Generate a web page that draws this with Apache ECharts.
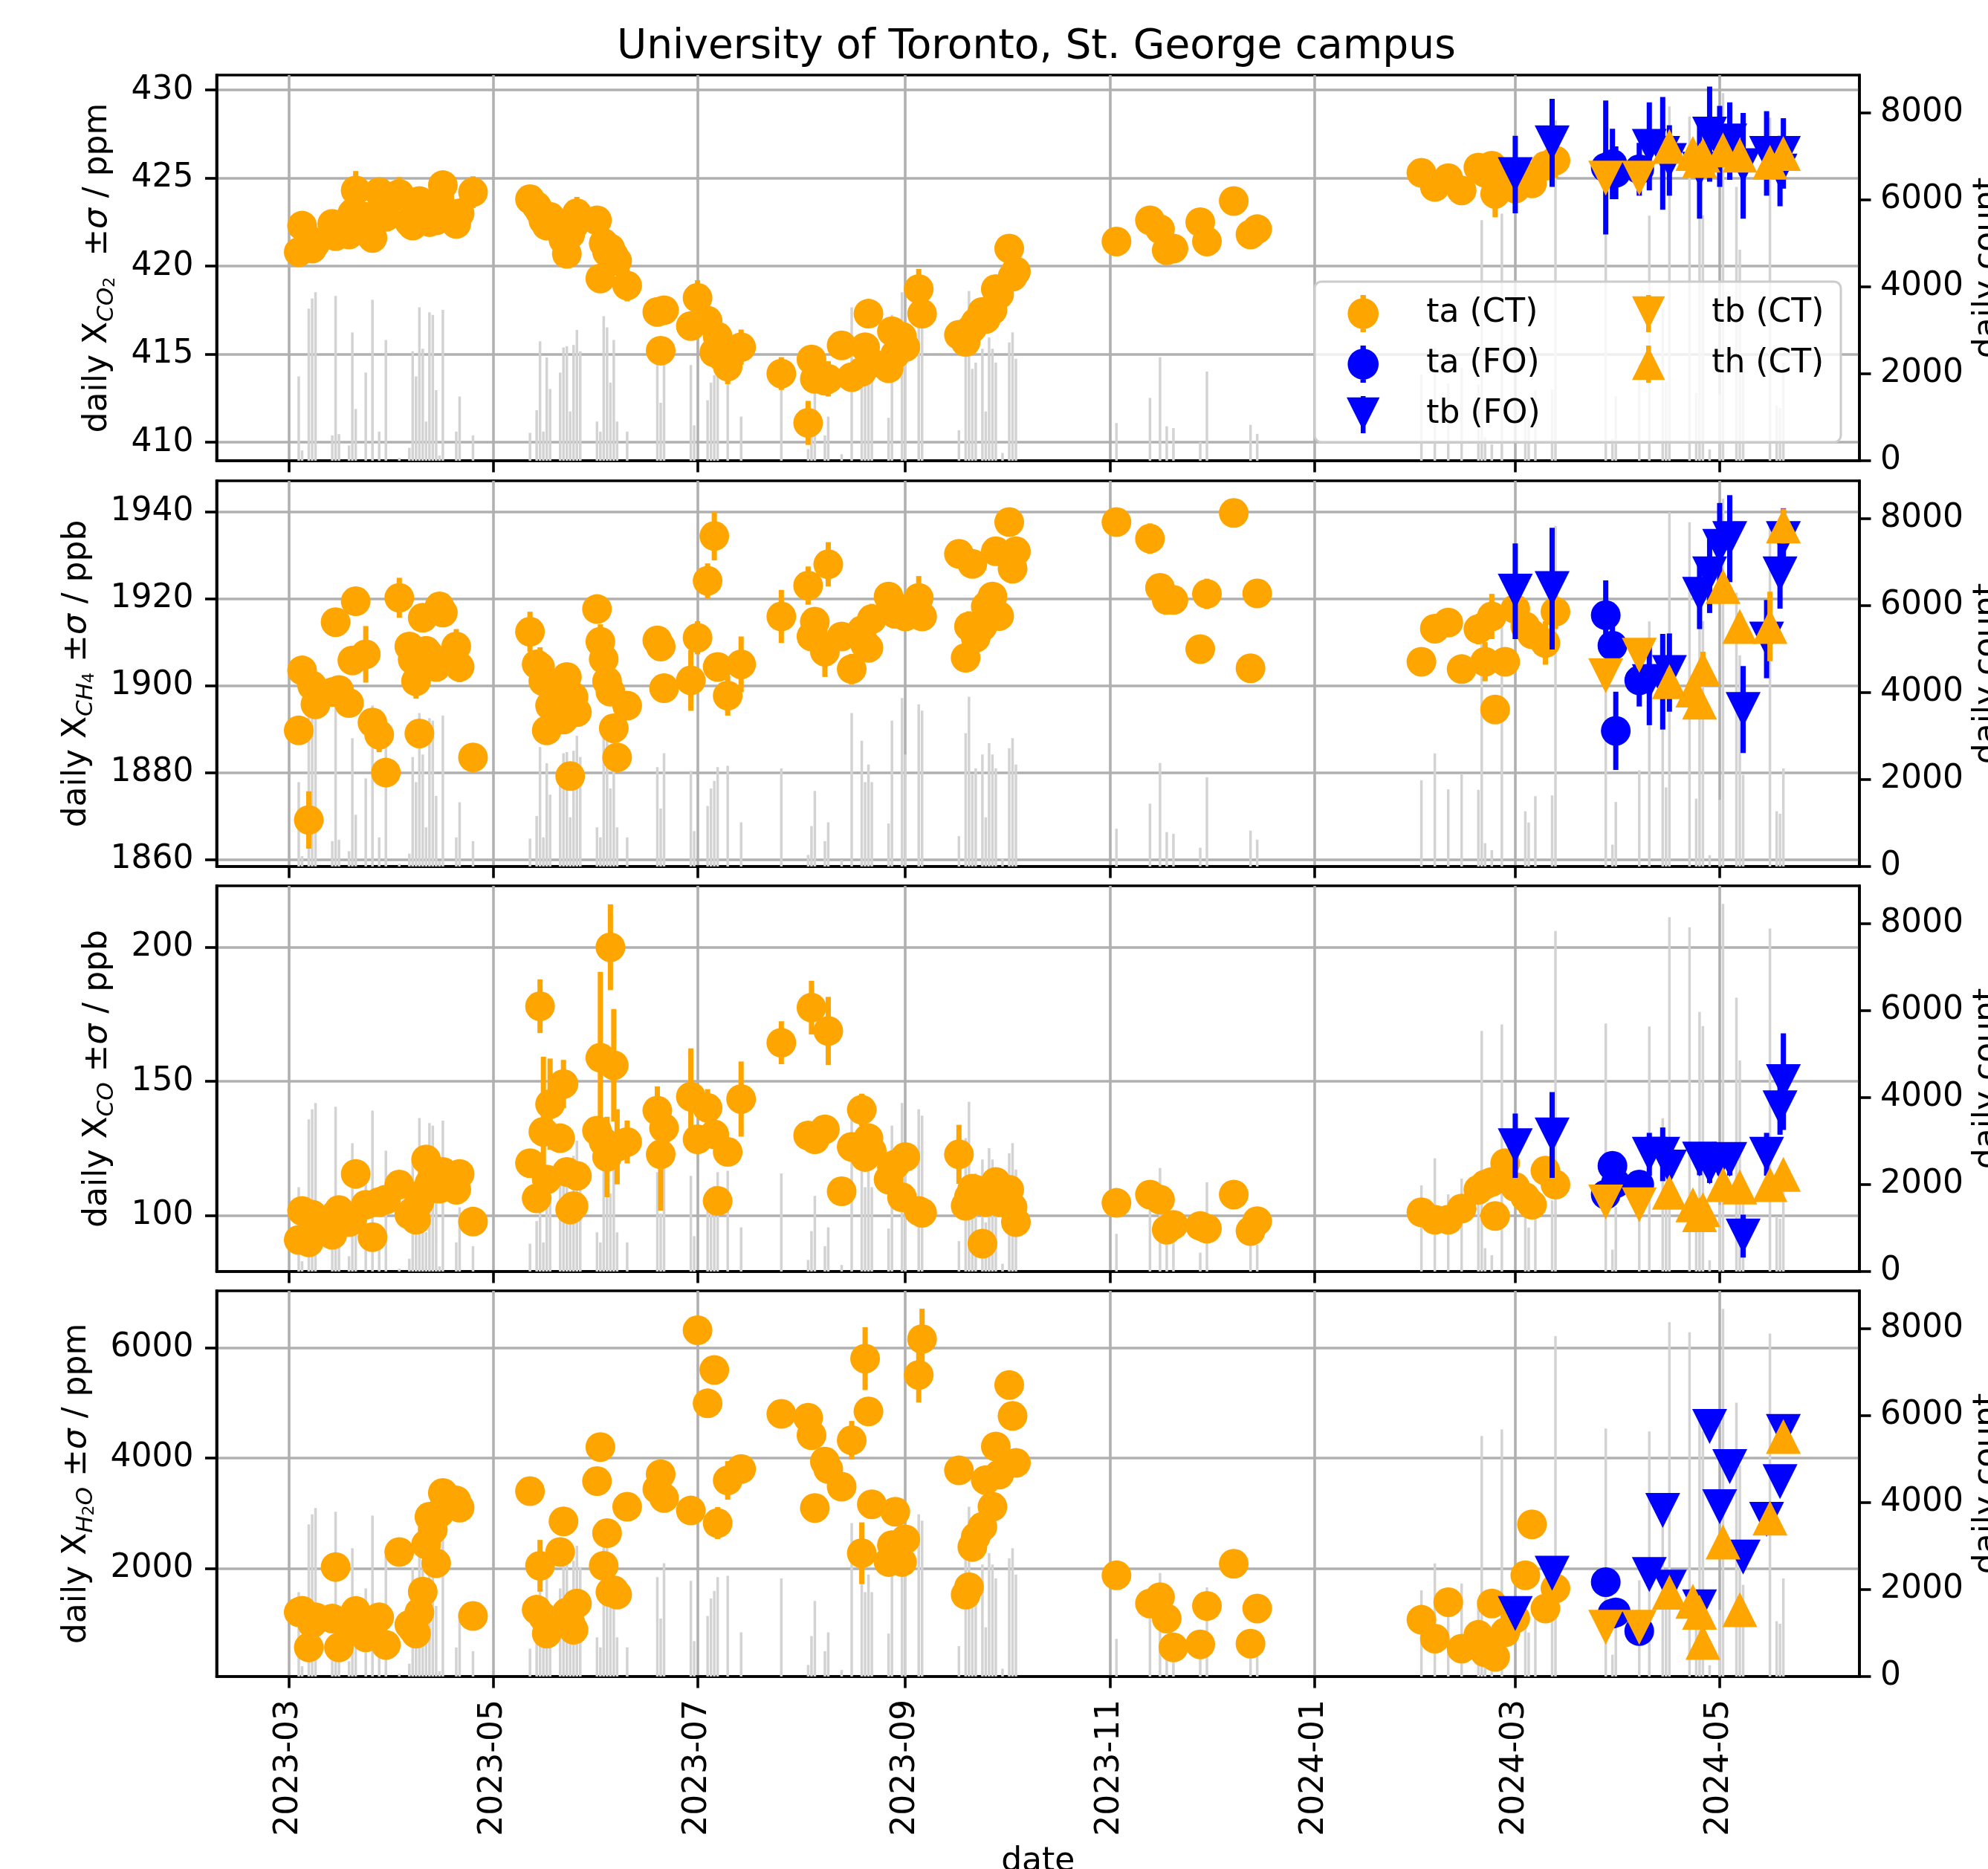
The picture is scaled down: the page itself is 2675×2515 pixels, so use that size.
<!DOCTYPE html>
<html>
<head>
<meta charset="utf-8">
<title>University of Toronto, St. George campus</title>
<script src="https://cdn.jsdelivr.net/npm/echarts@6.0.0/dist/echarts.min.js"></script>
<style>
  html, body { margin: 0; padding: 0; background: #ffffff; }
  #main { width: 2675px; height: 2515px; }
</style>
</head>
<body>
<div id="main"></div>
<script>
// x values are days since 2023-03-01
var monthTicks = [0, 61, 122, 184, 245, 306, 366, 427];
var monthLabels = ['2023-03', '2023-05', '2023-07', '2023-09', '2023-11', '2024-01', '2024-03', '2024-05'];

var co2Ticks = [410, 415, 420, 425, 430];
var ch4Ticks = [1860, 1880, 1900, 1920, 1940];
var coTicks = [100, 150, 200];
var h2oTicks = [2000, 4000, 6000];
var countTicks = [0, 2000, 4000, 6000, 8000];

// ta (CT) measurement days
var taDays = [
  3, 4, 6, 7, 8, 13, 14, 15, 18, 19, 20, 23, 25, 27, 29, 33,
  36, 37, 38, 39, 40, 41, 42, 43, 44, 45, 46, 50, 51, 55,
  72, 74, 75, 76, 77, 78, 81, 82, 83, 84, 85, 86,
  92, 93, 94, 95, 96, 97, 98, 101, 110, 111, 112,
  120, 122, 125, 127, 128, 131, 135, 147,
  155, 156, 157, 160, 161, 165, 168, 171, 172, 173, 174, 179, 180, 181, 183,
  184, 188, 189, 200, 202, 203, 204, 205, 207, 208, 210, 211, 212,
  215, 216, 217,
  247, 257, 260, 262, 264, 272, 274, 282, 287, 289,
  338, 342, 346, 350, 355, 357, 359, 360, 363, 366, 369, 371, 375, 378
];
var co2TaCT = [
  420.8, 422.3, 421.5, 421.0, 421.3, 422.4, 421.7, 422.0, 421.8, 423.0, 424.3, 422.8, 421.6, 424.2, 422.8, 424.1,
  422.5, 422.3, 423.0, 423.7, 423.2, 422.7, 422.5, 423.5, 422.6, 423.8, 424.6, 422.4, 423.0, 424.2,
  423.8, 423.4, 423.1, 422.6, 422.3, 422.8, 422.0, 421.5, 420.7, 421.8, 422.3, 423.0,
  422.6, 419.3, 421.3, 420.8, 421.0, 420.6, 420.3, 418.9, 417.4, 415.2, 417.5,
  416.6, 418.2, 416.9, 415.1, 416.0, 414.3, 415.4, 413.9,
  411.1, 414.7, 413.6, 413.5, 413.6, 415.5, 413.7, 414.0, 415.4, 417.3, 414.5, 414.2, 416.3, 415.0, 416.0,
  415.4, 418.7, 417.3, 416.1, 415.7, 416.3, 416.5, 416.8, 417.4, 417.0, 417.5, 418.7, 418.4,
  421.0, 419.4, 419.7,
  421.4, 422.6, 422.1, 420.9, 421.0, 422.5, 421.4, 423.7, 421.8, 422.1,
  425.3, 424.5, 425.0, 424.3, 425.6, 425.3, 425.7, 424.1, 424.8, 424.4, 425.1, 424.7, 425.7, 426.0
];
var co2TaCTErr = [
  0.5, 0.5, 0.5, 0.5, 0.5, 0.5, 0.5, 0.5, 0.5, 0.6, 1.1, 0.6, 0.5, 0.7, 0.5, 0.95,
  0.5, 0.5, 0.6, 0.5, 0.5, 0.5, 0.5, 0.5, 0.5, 0.6, 0.5, 0.6, 0.7, 0.9,
  0.7, 0.9, 0.6, 0.6, 0.5, 0.5, 0.6, 0.5, 0.5, 0.5, 0.5, 0.93,
  0.6, 0.5, 0.6, 0.5, 0.5, 0.5, 0.6, 0.9, 0.5, 0.5, 0.5,
  0.5, 1.0, 0.6, 0.9, 0.6, 1.0, 1.0, 0.93,
  1.25, 0.5, 0.5, 0.5, 1.0, 0.5, 0.6, 0.5, 0.7, 0.5, 0.6, 0.5, 0.6, 0.5, 0.5,
  0.5, 1.14, 0.6, 0.5, 0.5, 0.5, 0.5, 0.5, 0.5, 0.5, 0.5, 0.5, 0.5,
  0.5, 0.5, 0.5,
  0.4, 0.4, 0.4, 0.4, 0.4, 0.4, 0.4, 0.4, 0.4, 0.4,
  0.5, 0.5, 0.5, 0.5, 0.7, 1.07, 0.8, 1.33, 0.6, 0.7, 0.9, 0.6, 0.5, 1.0
];
var ch4TaCT = [
  1889.7, 1903.5, 1869.1, 1900.0, 1895.7, 1898.5, 1914.6, 1899.0, 1896.0, 1905.8, 1919.4, 1907.2, 1891.5, 1888.7, 1880.0, 1920.2,
  1909.0, 1906.0, 1901.0, 1889.0, 1915.6, 1908.0, 1907.0, 1906.0, 1904.3, 1918.2, 1916.8, 1909.0, 1904.3, 1883.5,
  1912.4, 1904.9, 1904.3, 1901.0, 1889.7, 1895.4, 1896.5, 1892.2, 1902.0, 1879.2, 1897.4, 1893.9,
  1917.6, 1910.1, 1906.1, 1901.0, 1898.6, 1890.2, 1883.5, 1895.4, 1910.4, 1909.0, 1899.4,
  1901.2, 1911.0, 1924.1, 1934.4, 1904.3, 1897.7, 1904.9, 1915.9,
  1923.0, 1911.3, 1914.7, 1907.8, 1927.9, 1911.3, 1903.8, 1912.7, 1909.5, 1908.7, 1915.3, 1920.5, 1918.8, 1916.5, 1917.5,
  1915.9, 1920.2, 1915.9, 1930.3, 1906.4, 1913.6, 1928.0, 1911.0, 1913.6, 1918.2, 1920.5, 1930.9, 1916.0,
  1937.6, 1926.9, 1930.9,
  1937.6, 1933.8, 1922.5, 1919.7, 1919.7, 1908.4, 1921.1, 1939.7, 1904.0, 1921.2,
  1905.5, 1913.1, 1914.5, 1903.8, 1913.0, 1905.5, 1915.9, 1894.5, 1905.5, 1917.6, 1913.6, 1911.8, 1909.8, 1917.0
];
var ch4TaCTErr = [
  2.5, 2.5, 6.6, 2.5, 2.5, 2.5, 2.5, 2.5, 2.5, 2.5, 2.5, 6.5, 2.5, 4.0, 2.5, 4.6,
  2.5, 2.5, 4.0, 2.5, 2.5, 2.5, 2.5, 2.5, 2.5, 2.5, 2.5, 4.0, 3.5, 2.5,
  4.6, 2.5, 4.5, 2.5, 2.5, 2.5, 2.5, 2.5, 2.5, 2.5, 2.5, 2.5,
  2.5, 4.0, 2.5, 2.5, 2.5, 2.5, 2.5, 2.5, 2.5, 2.5, 2.5,
  7.0, 3.8, 4.0, 5.6, 2.5, 4.6, 6.4, 6.1,
  4.4, 2.5, 2.5, 5.8, 5.1, 2.5, 3.5, 4.0, 2.5, 2.5, 3.5, 2.5, 3.5, 2.5, 3.0,
  3.0, 5.0, 3.0, 2.5, 2.5, 3.5, 2.5, 2.5, 2.5, 2.5, 2.5, 3.0, 2.5,
  3.0, 2.5, 3.0,
  2.5, 3.5, 2.5, 2.5, 2.5, 2.5, 3.5, 2.5, 2.5, 2.5,
  2.5, 3.0, 2.5, 2.5, 3.5, 4.5, 5.2, 2.5, 3.0, 3.5, 3.0, 3.0, 5.0, 4.0
];
var coTaCT = [
  90.9, 101.7, 90.0, 100.3, 98.9, 92.8, 100.3, 102.0, 97.5, 99.0, 115.5, 104.0, 91.9, 105.0, 105.9, 111.5,
  100.3, 101.5, 98.4, 105.0, 108.0, 120.9, 112.0, 115.3, 113.4, 110.0, 116.2, 109.6, 115.5, 97.7,
  119.5, 106.4, 178.0, 131.2, 113.4, 141.5, 128.8, 149.0, 116.2, 102.2, 103.5, 114.8,
  131.6, 158.8, 127.4, 121.8, 200.0, 156.0, 125.6, 127.4, 139.1, 122.8, 132.6,
  144.3, 128.4, 140.1, 130.2, 105.4, 123.7, 143.4, 164.4,
  129.8, 177.5, 128.4, 132.1, 168.8, 109.0, 125.6, 139.4, 121.8, 128.8, 124.0, 113.4, 118.0, 119.0, 106.8,
  121.8, 101.7, 101.0, 122.8, 103.6, 107.0, 110.0, 109.6, 89.5, 105.0, 108.7, 112.5, 105.0,
  109.6, 103.0, 97.5,
  104.7, 107.8, 105.9, 94.7, 96.5, 96.1, 95.1, 107.8, 94.2, 97.9,
  101.2, 98.4, 98.4, 102.6, 109.6, 111.5, 112.5, 99.8, 119.5, 110.6, 106.8, 104.0, 116.7, 111.5
];
var coTaCTErr = [
  3, 3, 3, 3, 3, 3, 3, 3, 3, 3, 3, 3, 3, 3, 3, 3,
  3, 3, 3, 3, 3, 3, 4, 4, 3, 3, 3, 3, 4, 3,
  4, 3, 10, 28, 3, 17, 4, 9, 3, 3, 3, 4,
  3, 32, 4, 15, 16, 21, 14, 8, 9, 21, 4,
  18, 4, 7, 5, 3, 4, 14, 8,
  4, 10, 4, 4, 12.7, 3, 4, 6, 4, 4, 4, 3, 4, 4, 3,
  3, 3, 3, 11, 3, 3, 4, 3, 3, 3, 3, 4, 3,
  3, 3, 3,
  2, 2, 2, 2, 2, 2, 2, 2, 2, 2,
  2, 2, 2, 2, 3, 3, 3, 2, 3, 3, 3, 3, 4, 3
];
var h2oTaCT = [
  1203, 1230, 565, 1000, 1111, 1089, 2023, 565, 884, 1100, 1225, 747, 900, 1111, 610, 2296,
  975, 900, 815, 1200, 1576, 2433, 2934, 2700, 2091, 3000, 3367, 3230, 3100, 1134,
  3399, 1248, 2045, 1111, 815, 1000, 2296, 2852, 1200, 1020, 884, 1362,
  3581, 4200, 2045, 2638, 1567, 1600, 1521, 3116, 3435, 3708, 3276,
  3048, 6319, 4993, 5599, 2820, 3594, 3800, 4802,
  4733, 4415, 3094, 3936, 3800, 3481, 4323, 2273, 5804, 4847, 3162, 2114, 2420, 3025, 2114,
  2524, 5508, 6159, 3777, 1521, 1658, 2387, 2569, 2752, 3600, 3116, 4210, 3700,
  5326, 4765, 3913,
  1872, 1362, 1476, 1089, 565, 620, 1317, 2082, 633, 1271,
  1066, 724, 1385, 542, 793, 474, 1362, 392, 838, 1089, 1872, 2797, 1271, 1635
];
var h2oTaCTErr = [
  40, 40, 40, 40, 40, 40, 40, 40, 40, 40, 40, 40, 40, 40, 40, 40,
  40, 40, 40, 40, 40, 40, 40, 40, 40, 40, 40, 40, 40, 40,
  40, 40, 470, 40, 40, 40, 40, 40, 40, 40, 40, 40,
  40, 40, 40, 40, 40, 40, 40, 40, 40, 40, 40,
  40, 40, 40, 40, 290, 350, 40, 40,
  40, 40, 40, 40, 40, 40, 350, 560, 570, 40, 40, 40, 40, 40, 40,
  40, 500, 550, 40, 40, 40, 40, 40, 40, 40, 40, 40, 40,
  40, 40, 40,
  40, 40, 40, 40, 40, 40, 40, 40, 40, 40,
  40, 40, 40, 40, 40, 40, 40, 40, 40, 40, 40, 40, 40, 40
];

// ta (FO)
var taFODays = [393, 395, 396, 403];
var co2TaFO = [425.6, 425.8, 425.3, 425.5];
var co2TaFOErr = [3.8, 2.0, 1.5, 1.5];
var ch4TaFO = [1916.2, 1909.2, 1889.6, 1901.2];
var ch4TaFOErr = [8, 6, 9, 6];
var coTaFO = [107.8, 118.5, 112.0, 111.5];
var coTaFOErr = [3, 5, 3, 4];
var h2oTaFO = [1749, 1180, 1200, 861];
var h2oTaFOErr = [60, 60, 60, 60];

// tb (FO)
var tbFODays = [366, 377, 406, 410, 412, 421, 424, 427, 430, 434, 441, 445, 446];
var co2TbFO = [425.2, 427.0, 426.8, 426.4, 426.0, 425.5, 427.5, 426.8, 427.1, 425.7, 426.4, 425.4, 426.4];
var co2TbFOErr = [2.2, 2.5, 2.5, 3.2, 2.0, 2.8, 2.7, 2.3, 2.2, 3.0, 2.4, 2.0, 2.0];
var ch4TbFO = [1921.7, 1922.3, 1900.9, 1900.9, 1903.0, 1921.0, 1925.7, 1932.0, 1933.8, 1894.5, 1910.7, 1925.7, 1933.8];
var ch4TbFOErr = [11, 14, 10, 11, 9, 8, 9, 10, 10, 10, 9, 8, 7];
var coTbFO = [126.0, 130.0, 122.8, 122.8, 118.0, 121.0, 118.1, 120.0, 120.9, 92.3, 122.8, 140.1, 149.9];
var coTbFOErr = [12, 16, 8, 10, 6, 6, 6, 5, 6, 8, 8, 10, 18];
var h2oTbFO = [1180, 1909, 1886, 3048, 1658, 1300, 4574, 3116, 3845, 2205, 2888, 3572, 4483];
var h2oTbFOErr = [100, 150, 100, 150, 100, 100, 100, 100, 120, 150, 100, 150, 100];

// tb (CT)
var tbCTDays = [393, 403];
var co2TbCT = [425.0, 425.0];
var co2TbCTErr = [0.5, 0.5];
var ch4TbCT = [1902.3, 1907.0];
var ch4TbCTErr = [3, 3];
var coTbCT = [105.0, 104.0];
var coTbCTErr = [2, 2];
var h2oTbCT = [929, 929];
var h2oTbCTErr = [40, 40];

// th (CT)
var thCTDays = [412, 419, 421, 422, 428, 433, 442, 446];
var co2ThCT = [426.8, 426.4, 426.0, 426.3, 426.6, 426.3, 425.9, 426.4];
var co2ThCTErr = [0.6, 0.6, 0.6, 0.6, 0.6, 0.6, 0.6, 0.6];
var ch4ThCT = [1900.9, 1899.0, 1896.2, 1903.8, 1922.8, 1913.6, 1913.6, 1936.7];
var ch4ThCTErr = [3, 3, 3, 4, 3, 3, 8, 4];
var coThCT = [108.7, 104.0, 100.3, 102.2, 111.5, 110.6, 111.5, 115.3];
var coThCTErr = [2, 2, 2, 2, 2, 2, 2, 2];
var h2oThCT = [1567, 1400, 1203, 656, 2478, 1248, 2911, 4392];
var h2oThCTErr = [60, 60, 60, 60, 60, 60, 60, 60];

// daily count (right axis, same in every panel)
var barDays = [
  3, 4, 6, 7, 8, 13, 14, 15, 18, 19, 20, 23, 25, 27, 29, 33,
  36, 37, 38, 39, 40, 41, 42, 43, 44, 45, 46, 50, 51, 55,
  72, 74, 75, 76, 77, 78, 81, 82, 83, 84, 85, 86, 87,
  92, 93, 94, 95, 96, 97, 98, 101, 110, 111, 112,
  120, 121, 125, 126, 127, 128, 131, 135, 147,
  155, 156, 157, 160, 161, 165, 168, 171, 172, 173, 174, 179, 180, 183, 184, 188, 189,
  200, 202, 203, 204, 205, 207, 208, 209, 210, 211, 213, 215, 216, 217,
  247, 257, 260, 262, 264, 272, 274, 287, 289,
  338, 342, 346, 350, 355, 356, 357, 359, 362, 369, 370, 372, 377, 378,
  393, 395, 396, 403, 406, 410, 411, 412, 418, 420, 421, 422, 424, 427, 428, 432, 433, 434, 442, 444, 445, 446
];
var barCounts = [
  1940, 237, 3500, 3731, 3875, 583, 3788, 612, 352, 2951, 1190, 2027, 3702, 670, 2778, 64,
  295, 2518, 1940, 3529, 2576, 901, 3413, 3355, 1623, 121, 3471, 670, 1478, 583,
  641, 1161, 2749, 670, 2374, 1652, 2027, 2605, 2633, 1132, 2662, 3009, 2518,
  901, 670, 3326, 3067, 1796, 2778, 901, 670, 2287, 1334, 2605,
  2200, 814, 1392, 1796, 1969, 2287, 2316, 1016, 2258,
  266, 930, 1738, 583, 1016, 150, 3529, 2893, 1940, 2345, 1940, 988, 3355, 3875, 2576, 3731, 3586,
  699, 3067, 3904, 2114, 2258, 2576, 1132, 2836, 2576, 2258, 179, 2720, 2951, 2345,
  867, 1445, 2381, 792, 751, 433, 2052, 826, 618,
  1982, 2601, 1774, 2138, 1763, 5531, 537, 376, 5681, 1271, 1011, 1618, 1635, 7831,
  5704, 503, 1485, 2213, 5635, 3525, 1820, 8148, 7917, 1560, 5970, 5646, 260, 1531, 8455, 6299, 4854, 2109, 7888, 1271, 1214, 2254
];

var FONT = 'DejaVu Sans';
var ORANGE = '#ffa500', BLUE = '#0000ff';
var ICON_CIRCLE = 'path://M20,4A20,20 0 1 1 20,44A20,20 0 1 1 20,4Z M16.5,0H23.5V48H16.5Z';
var ICON_DOWN = 'path://M0,2H48L24,50Z M20.5,0H27.5V54H20.5Z';
var ICON_UP = 'path://M24,2L48,50H0Z M20.5,0H27.5V54H20.5Z';

var styles = [
  { name: 'ta (CT)', color: ORANGE, symbol: 'circle', size: 40, rotate: 0 },
  { name: 'ta (FO)', color: BLUE, symbol: 'circle', size: 40, rotate: 0 },
  { name: 'tb (FO)', color: BLUE, symbol: 'triangle', size: 47, rotate: 180 },
  { name: 'tb (CT)', color: ORANGE, symbol: 'triangle', size: 47, rotate: 180 },
  { name: 'th (CT)', color: ORANGE, symbol: 'triangle', size: 47, rotate: 0 }
];
var seriesDays = [taDays, taFODays, tbFODays, tbCTDays, thCTDays];

var nameRich = {
  n: { fontFamily: FONT, fontSize: 44, lineHeight: 56, color: '#000' },
  i: { fontFamily: FONT, fontSize: 44, lineHeight: 56, fontStyle: 'italic', color: '#000' },
  s: { fontFamily: FONT, fontSize: 31, lineHeight: 40, fontStyle: 'italic', verticalAlign: 'bottom', color: '#000' },
  t: { fontFamily: FONT, fontSize: 22, lineHeight: 30, verticalAlign: 'bottom', color: '#000' }
};

var panels = [
  { min: 408.95, max: 430.85, ticks: co2Ticks, gap: 132,
    name: '{n|daily X}{s|CO}{t|2}{n|  ±}{i|σ}{n| / ppm}',
    vals: [co2TaCT, co2TaFO, co2TbFO, co2TbCT, co2ThCT],
    errs: [co2TaCTErr, co2TaFOErr, co2TbFOErr, co2TbCTErr, co2ThCTErr] },
  { min: 1858.4, max: 1947.1, ticks: ch4Ticks, gap: 160,
    name: '{n|daily X}{s|CH}{t|4}{n| ±}{i|σ}{n| / ppb}',
    vals: [ch4TaCT, ch4TaFO, ch4TbFO, ch4TbCT, ch4ThCT],
    errs: [ch4TaCTErr, ch4TaFOErr, ch4TbFOErr, ch4TbCTErr, ch4ThCTErr] },
  { min: 79.1, max: 222.9, ticks: coTicks, gap: 132,
    name: '{n|daily X}{s|CO}{n| ±}{i|σ}{n| / ppb}',
    vals: [coTaCT, coTaFO, coTbFO, coTbCT, coThCT],
    errs: [coTaCTErr, coTaFOErr, coTbFOErr, coTbCTErr, coThCTErr] },
  { min: 36, max: 7034, ticks: h2oTicks, gap: 160,
    name: '{n|daily X}{s|H}{t|2}{s|O}{n| ±}{i|σ}{n| / ppm}',
    vals: [h2oTaCT, h2oTaFO, h2oTbFO, h2oTbCT, h2oThCT],
    errs: [h2oTaCTErr, h2oTaFOErr, h2oTbFOErr, h2oTbCTErr, h2oThCTErr] }
];

var gridTops = [101, 647, 1192, 1737];
var xMin = -21.5, xMax = 468.7;
var axisLineStyle = { color: '#000', width: 3.6 };
var tickFont = { fontFamily: FONT, fontSize: 44, color: '#000' };

function fmtMonth(v) {
  var k = monthTicks.indexOf(Math.round(v));
  return k >= 0 ? monthLabels[k] : '';
}
function fmtPlain(v) { return String(v); }

function errorSeries(st, gi, days, vals, errs, z) {
  return {
    type: 'custom', name: st.name, xAxisIndex: gi, yAxisIndex: 2 * gi, z: z,
    silent: true, itemStyle: { color: st.color },
    encode: { x: 0, y: 1 },
    data: days.map(function (d, k) { return [d, vals[k], errs[k]]; }),
    renderItem: function (params, api) {
      var a = api.coord([api.value(0), api.value(1) - api.value(2)]);
      var b = api.coord([api.value(0), api.value(1) + api.value(2)]);
      return { type: 'line', shape: { x1: a[0], y1: a[1], x2: b[0], y2: b[1] },
               style: { stroke: st.color, lineWidth: 7 } };
    }
  };
}

var grids = [], xAxes = [], yAxes = [], series = [];
panels.forEach(function (p, i) {
  grids.push({ left: 291.5, right: 173, top: gridTops[i], height: 519,
               containLabel: false, outerBoundsMode: 'none',
               show: true, borderColor: '#000', borderWidth: 3.6, backgroundColor: 'transparent' });
  xAxes.push({
    type: 'value', gridIndex: i, min: xMin, max: xMax,
    axisLine: { onZero: false, lineStyle: axisLineStyle },
    axisTick: { length: 15.5, customValues: monthTicks, lineStyle: axisLineStyle },
    axisLabel: Object.assign({ show: i === 3, customValues: monthTicks, rotate: 90, margin: 31,
                               formatter: fmtMonth }, tickFont),
    splitLine: { show: true, lineStyle: { color: '#b0b0b0', width: 3.6 } },
    name: i === 3 ? 'date' : '', nameLocation: 'middle', nameGap: 228,
    nameTextStyle: tickFont
  });
  yAxes.push({
    type: 'value', gridIndex: i, position: 'left', min: p.min, max: p.max,
    axisLine: { show: true, onZero: false, lineStyle: axisLineStyle },
    axisTick: { length: 15.5, customValues: p.ticks, lineStyle: axisLineStyle },
    axisLabel: Object.assign({ customValues: p.ticks, margin: 31, formatter: fmtPlain }, tickFont),
    splitLine: { show: true, lineStyle: { color: '#b0b0b0', width: 3.6 } },
    name: p.name, nameLocation: 'middle', nameRotate: 90, nameGap: p.gap,
    nameTextStyle: { fontFamily: FONT, fontSize: 44, color: '#000', rich: nameRich }
  });
  yAxes.push({
    type: 'value', gridIndex: i, position: 'right', min: 0, max: 8870,
    axisLine: { show: true, onZero: false, lineStyle: axisLineStyle },
    axisTick: { length: 15.5, customValues: countTicks, lineStyle: axisLineStyle },
    axisLabel: Object.assign({ customValues: countTicks, margin: 28, formatter: fmtPlain }, tickFont),
    splitLine: { show: false },
    name: 'daily count', nameLocation: 'middle', nameRotate: 90, nameGap: 150,
    nameTextStyle: tickFont
  });

  series.push({
    type: 'bar', xAxisIndex: i, yAxisIndex: 2 * i + 1, z: 1, silent: true,
    barWidth: 3.5, itemStyle: { color: '#d3d3d3' },
    data: barDays.map(function (d, k) { return [d, barCounts[k]]; })
  });

  styles.forEach(function (st, s) {
    var days = seriesDays[s];
    series.push(errorSeries(st, i, days, p.vals[s], p.errs[s], 10 + 2 * s));
    series.push({
      type: 'scatter', name: st.name, xAxisIndex: i, yAxisIndex: 2 * i, z: 11 + 2 * s,
      symbol: st.symbol, symbolSize: st.size, symbolRotate: st.rotate,
      itemStyle: { color: st.color, opacity: 1 }, emphasis: { disabled: true },
      data: days.map(function (d, k) { return [d, p.vals[s][k]]; })
    });
  });
});

var legendText = { fontFamily: FONT, fontSize: 44, lineHeight: 50, color: '#000' };

var chart = echarts.init(document.getElementById('main'));
chart.setOption({
  animation: false,
  backgroundColor: '#ffffff',
  textStyle: { fontFamily: FONT },
  title: {
    text: 'University of Toronto, St. George campus',
    left: 830, top: 32, padding: 0,
    textStyle: { fontFamily: FONT, fontSize: 55, fontWeight: 'normal', color: '#000', lineHeight: 64 }
  },
  graphic: [{
    type: 'rect', z: 40, silent: true,
    shape: { x: 1769, y: 379, width: 708, height: 216, r: 9 },
    style: { fill: 'rgba(255,255,255,0.8)', stroke: '#cccccc', lineWidth: 3 }
  }],
  legend: [
    { orient: 'vertical', left: 1812, top: 397, padding: 0, itemWidth: 160, itemHeight: 50, itemGap: 18,
      z: 50, symbolRotate: 0, textStyle: legendText,
      data: [{ name: 'ta (CT)', icon: ICON_CIRCLE, symbolRotate: 0 },
             { name: 'ta (FO)', icon: ICON_CIRCLE, symbolRotate: 0 },
             { name: 'tb (FO)', icon: ICON_DOWN, symbolRotate: 0 }] },
    { orient: 'vertical', left: 2196, top: 397, padding: 0, itemWidth: 160, itemHeight: 50, itemGap: 18,
      z: 50, symbolRotate: 0, textStyle: legendText,
      data: [{ name: 'tb (CT)', icon: ICON_DOWN, symbolRotate: 0 },
             { name: 'th (CT)', icon: ICON_UP, symbolRotate: 0 }] }
  ],
  grid: grids,
  xAxis: xAxes,
  yAxis: yAxes,
  series: series
});
</script>
</body>
</html>
